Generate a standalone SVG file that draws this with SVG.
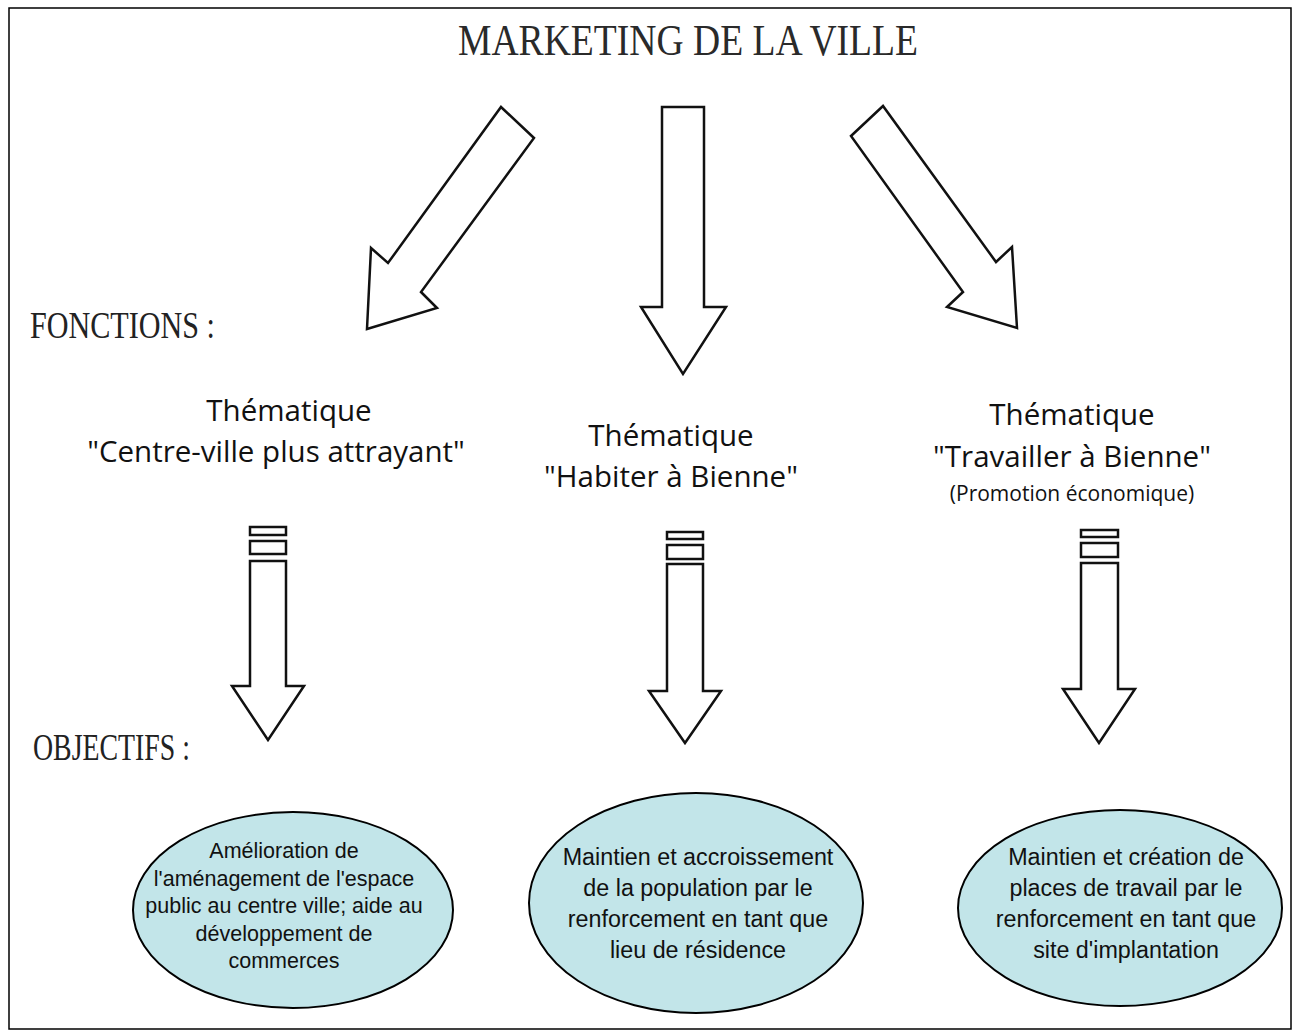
<svg xmlns="http://www.w3.org/2000/svg" width="1299" height="1034" viewBox="0 0 1299 1034">
<style>
.frame{fill:#fff;stroke:#000;stroke-width:1.5}
.arr{fill:#fff;stroke:#111;stroke-width:2.5;stroke-linejoin:miter}
.ell{fill:#c2e5e9;stroke:#000;stroke-width:2}
.title{font-family:"Liberation Serif",serif;font-size:44px;fill:#2a2a2a}
.lab{font-family:"Liberation Serif",serif;font-size:37px;fill:#222}
.head{font-family:"Open Sans","Liberation Sans",sans-serif;font-size:29.5px;fill:#111;text-anchor:middle}
.sub{font-family:"Open Sans","Liberation Sans",sans-serif;font-size:21px;fill:#111;text-anchor:middle}
.et{font-family:"Liberation Sans",Arial,sans-serif;fill:#111;text-anchor:middle}
</style>
<rect class="frame" x="9" y="8" width="1282" height="1021"/>
<text class="title" x="458" y="55" textLength="460" lengthAdjust="spacingAndGlyphs">MARKETING DE LA VILLE</text>
<g id="connectors">
<polygon class="arr" points="501,107 534,138 421,292 437,308 367,329 371,248 388,263"/>
<polygon class="arr" points="662,107 704,107 704,307 726,307 683,374 641,307 662,307"/>
<polygon class="arr" points="883,106 851,136 963,292 947,307 1017,328 1012,247 996,262"/>
<g id="down-left">
<rect class="arr" x="250" y="527" width="36" height="8"/>
<rect class="arr" x="250" y="541" width="36" height="13"/>
<polygon class="arr" points="250,561 286,561 286,686 304,686 268,740 232,686 250,686"/>
</g>
<g id="down-mid">
<rect class="arr" x="667" y="532" width="36" height="7"/>
<rect class="arr" x="667" y="545" width="36" height="14"/>
<polygon class="arr" points="667,564 703,564 703,691 721,691 685,743 649,691 667,691"/>
</g>
<g id="down-right">
<rect class="arr" x="1081" y="530" width="37" height="7"/>
<rect class="arr" x="1081" y="543" width="37" height="14"/>
<polygon class="arr" points="1081,563 1118,563 1118,689 1135,689 1099,743 1063,689 1081,689"/>
</g>
</g>
<text class="lab" x="30" y="338" textLength="185" lengthAdjust="spacingAndGlyphs">FONCTIONS :</text>
<text class="lab" x="33" y="760" textLength="157" lengthAdjust="spacingAndGlyphs">OBJECTIFS :</text>
<g id="theme-centre">
<text class="head" x="289" y="421">Thématique</text>
<text class="head" x="276" y="462">"Centre-ville plus attrayant"</text>
</g>
<g id="theme-habiter">
<text class="head" x="671" y="446">Thématique</text>
<text class="head" x="671" y="487">"Habiter à Bienne"</text>
</g>
<g id="theme-travailler">
<text class="head" x="1072" y="425">Thématique</text>
<text class="head" x="1072" y="467">"Travailler à Bienne"</text>
<text class="sub" x="1072" y="501">(Promotion économique)</text>
</g>
<g id="obj-centre">
<ellipse class="ell" cx="293" cy="910" rx="160" ry="98"/>
<text class="et" font-size="21.5" x="284" y="858">Amélioration de</text>
<text class="et" font-size="21.5" x="284" y="886">l'aménagement de l'espace</text>
<text class="et" font-size="21.5" x="284" y="913">public au centre ville; aide au</text>
<text class="et" font-size="21.5" x="284" y="941">développement de</text>
<text class="et" font-size="21.5" x="284" y="968">commerces</text>
</g>
<g id="obj-habiter">
<ellipse class="ell" cx="696" cy="903" rx="167" ry="110"/>
<text class="et" font-size="23.3" x="698" y="865">Maintien et accroissement</text>
<text class="et" font-size="23.3" x="698" y="896">de la population par le</text>
<text class="et" font-size="23.3" x="698" y="927">renforcement en tant que</text>
<text class="et" font-size="23.3" x="698" y="958">lieu de résidence</text>
</g>
<g id="obj-travailler">
<ellipse class="ell" cx="1120" cy="908" rx="162" ry="98"/>
<text class="et" font-size="23.3" x="1126" y="865">Maintien et création de</text>
<text class="et" font-size="23.3" x="1126" y="896">places de travail par le</text>
<text class="et" font-size="23.3" x="1126" y="927">renforcement en tant que</text>
<text class="et" font-size="23.3" x="1126" y="958">site d'implantation</text>
</g>
</svg>
